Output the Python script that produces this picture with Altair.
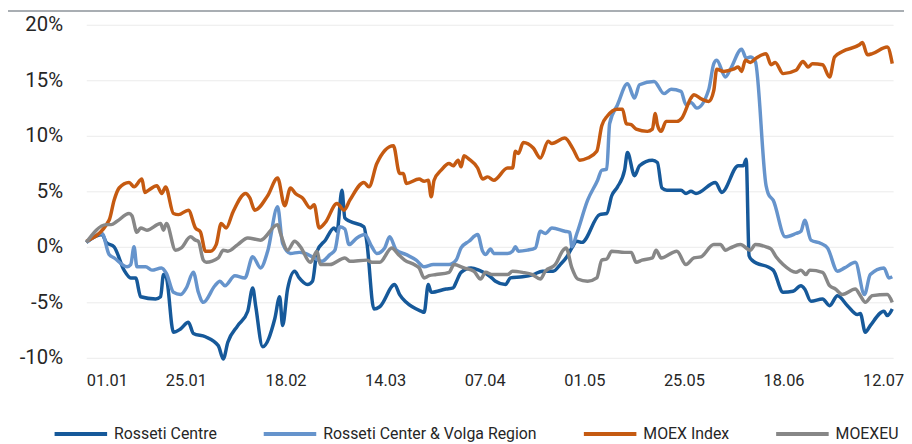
import altair as alt
import pandas as pd

# x values are days since 01.01, y values are % change
SERIES = ["Rosseti Centre", "Rosseti Center & Volga Region", "MOEX Index", "MOEXEU"]
COLORS = ["#16599A", "#6694CC", "#C55A11", "#878787"]
TICK_DAYS = [0, 24, 48, 72, 96, 120, 144, 168, 192]
TICK_LABELS = ["01.01", "25.01", "18.02", "14.03", "07.04", "01.05", "25.05", "18.06", "12.07"]
Y_TICKS = [-10, -5, 0, 5, 10, 15, 20]

RC_DAYS = [0, 3.8, 4.8, 6.7, 9.1, 10.7, 11.9, 13.1, 16.7, 17.9, 18.6, 19.3, 21.0, 22.7, 24.6, 25.8, 28.7, 31.8, 33.0, 34.1,
           36.5, 38.9, 40.1, 40.8, 42.5, 45.4, 46.6, 47.3, 48.5, 50.2, 51.3, 53.3, 54.5, 55.6, 57.6, 59.7, 60.4, 61.6, 62.3, 63.5,
           66.9, 67.6, 69.3, 70.7, 74.3, 75.5, 77.1, 80.7, 81.4, 82.4, 83.1, 86.7, 88.4, 89.1, 90.3, 92.7, 94.6, 97.4, 98.6, 101.0,
           102.2, 105.1, 107.7, 109.9, 112.5, 114.2, 115.8, 117.0, 118.2, 119.4, 123.7, 125.4, 126.6, 128.0, 129.7, 130.4, 132.1,
           133.3, 136.4, 137.6, 138.7, 139.9, 143.3, 144.5, 145.7, 146.9, 151.6, 153.1, 157.1, 158.3, 159.0, 159.7, 160.4, 165.5,
           167.9, 170.3, 172.2, 173.1, 174.6, 177.4, 179.1, 181.0, 183.4, 185.8, 186.5, 187.7, 188.9, 192.2, 193.0, 194.2]
RC_VALS = [0.4, 1.1, 0.4, 0.0, -2.1, -2.8, -2.8, -4.5, -4.7, -4.5, -2.5, -2.8, -7.7, -7.4, -6.8, -7.8, -8.1, -8.9, -10.1, -8.6,
           -7.1, -5.8, -3.7, -5.3, -9.0, -6.5, -4.5, -7.1, -3.8, -2.2, -2.8, -3.4, -3.1, -0.4, 0.6, 1.7, 1.4, 5.1, 2.6, 2.3,
           1.8, 0.4, -5.6, -5.4, -3.4, -4.3, -5.0, -5.8, -5.9, -3.4, -4.1, -3.8, -3.7, -3.2, -2.3, -1.9, -2.1, -2.7, -3.1, -3.4,
           -2.8, -2.7, -2.5, -2.2, -2.2, -1.6, -0.9, -0.1, 0.5, 0.4, 2.9, 3.0, 4.6, 5.4, 6.9, 8.5, 6.4,
           7.3, 7.8, 7.6, 5.3, 5.1, 5.1, 4.8, 5.0, 4.8, 5.8, 4.9, 7.3, 7.3, 7.9, -0.8, -1.2, -2.1,
           -4.1, -4.0, -3.5, -3.8, -4.9, -4.7, -5.3, -4.4, -5.3, -6.1, -6.0, -7.7, -7.1, -5.8, -6.2, -5.6]

VR_DAYS = [0, 3.8, 5.5, 6.7, 9.8, 10.7, 11.5, 12.2, 14.3, 15.8, 18.1, 19.3, 21.0, 22.7, 24.1, 25.8, 27.0, 28.2, 31.0, 32.2,
           33.4, 35.8, 38.2, 40.1, 42.0, 43.7, 46.1, 47.3, 49.2, 51.3, 52.8, 54.9, 56.8, 58.7, 59.9, 61.1, 62.3, 63.3, 65.2, 67.1,
           68.8, 70.0, 71.9, 73.1, 74.7, 77.1, 79.5, 81.4, 83.6, 87.4, 89.1, 90.3, 92.2, 94.3, 95.5, 96.2, 97.4, 98.2, 101.5, 102.7,
           103.4, 104.1, 106.3, 108.2, 109.4, 110.6, 112.2, 115.3, 116.5, 117.0, 118.2, 120.8, 123.2, 124.2, 125.4, 126.1, 128.0,
           130.4, 132.1, 133.3, 136.8, 139.2, 140.9, 143.3, 144.5, 145.7, 147.1, 150.0, 151.2, 151.9, 154.0, 155.2, 157.9, 159.0,
           160.0, 161.2, 163.8, 164.3, 165.5, 168.4, 171.0, 172.2, 173.1, 174.6, 177.0, 178.6, 181.0, 182.7, 185.3, 187.5, 188.9,
           192.2, 193.4, 194.2]
VR_VALS = [0.4, 1.2, -0.7, -1.0, -1.8, -1.6, 0.0, -1.8, -1.8, -2.1, -1.9, -2.4, -4.1, -4.3, -3.7, -2.3, -4.1, -5.0, -3.5, -3.1,
           -3.5, -2.6, -2.8, -0.9, -1.9, -0.4, 3.6, 0.3, -0.6, -0.5, -0.6, -1.0, -1.3, -0.7, -0.3, 1.8, 1.6, 0.2, 0.8, 1.1,
           0.0, -0.6, -0.1, 0.9, -0.3, -0.7, -1.2, -1.8, -1.6, -1.6, -1.2, -0.1, 0.5, 1.1, -0.4, -0.7, -0.2, -0.6, -0.6, -0.4,
           0.0, -0.4, -0.3, -0.1, 1.4, 1.2, 1.7, 1.4, 1.3, 0.0, 1.2, 4.2, 6.0, 6.9, 7.0, 11.1, 12.8,
           14.7, 13.4, 14.6, 14.9, 13.8, 14.2, 14.0, 12.8, 13.0, 12.5, 14.2, 16.5, 16.8, 15.3, 16.0, 17.8, 17.0,
           17.1, 16.7, 5.5, 4.8, 4.2, 0.9, 1.2, 1.4, 2.4, 0.6, 0.3, -0.1, -2.2, -1.9, -1.4, -4.3, -2.5,
           -1.9, -2.8, -2.7]

MX_DAYS = [0, 5.5, 6.7, 7.9, 10.3, 11.5, 13.4, 14.1, 15.0, 17.0, 18.2, 19.1, 21.0, 22.2, 24.6, 26.3, 27.5, 28.7, 29.9, 31.3,
           32.5, 33.7, 35.3, 38.4, 39.4, 40.6, 43.7, 46.1, 47.8, 49.2, 50.4, 52.1, 54.0, 54.9, 56.1, 57.6, 60.4, 62.1, 63.5, 66.9,
           68.1, 70.0, 74.0, 75.5, 76.4, 77.1, 80.2, 81.4, 82.4, 83.1, 83.8, 85.5, 87.4, 88.4, 89.6, 90.3, 91.0, 92.2, 94.3, 95.5,
           96.7, 98.2, 101.5, 102.7, 103.4, 104.1, 105.3, 107.7, 109.4, 111.3, 112.2, 115.3, 117.3, 118.9, 120.8, 123.0, 124.2,
           125.6, 128.0, 129.2, 130.1, 131.3, 132.5, 135.2, 136.4, 137.1, 137.6, 138.5, 139.7, 142.3, 143.5, 145.7, 146.4, 148.3,
           150.0, 151.2, 151.9, 153.6, 155.9, 157.1, 157.9, 158.8, 160.0, 161.4, 163.8, 165.0, 166.0, 167.9, 171.0, 172.7, 173.9,
           175.0, 177.4, 179.1, 180.3, 182.2, 186.3, 187.0, 188.2, 189.4, 193.0, 194.2]
MX_VALS = [0.5, 2.4, 4.2, 5.3, 5.8, 5.4, 6.1, 4.9, 5.1, 5.5, 4.8, 5.4, 3.0, 2.9, 3.3, 1.7, 1.35, -0.4, -0.4, 0.2,
           2.1, 1.7, 3.1, 4.8, 4.4, 3.3, 4.6, 6.2, 3.7, 5.3, 4.8, 4.4, 3.5, 3.8, 1.7, 2.2, 3.9, 3.3, 4.2, 5.8,
           5.4, 7.5, 9.1, 6.6, 6.6, 5.7, 6.1, 5.9, 6.0, 4.5, 6.0, 6.9, 7.5, 7.3, 7.8, 7.2, 8.2, 7.9, 7.1, 6.1,
           6.3, 6.0, 7.1, 7.1, 8.6, 8.4, 9.4, 8.9, 8.0, 9.5, 9.3, 9.8, 8.8, 7.8, 8.0, 8.6, 10.9,
           11.8, 12.4, 12.4, 11.1, 11.0, 10.6, 10.4, 10.6, 12.0, 11.0, 10.4, 11.3, 11.3, 11.6, 13.4, 13.7, 13.3,
           13.1, 14.1, 16.0, 15.8, 16.0, 16.2, 15.8, 16.8, 16.6, 17.0, 17.4, 16.4, 16.6, 15.6, 15.9, 16.7, 16.2,
           16.5, 16.4, 15.3, 17.1, 17.6, 18.2, 18.4, 17.3, 17.4, 18.0, 16.5]

EU_DAYS = [0, 4.8, 6.0, 7.4, 10.3, 11.0, 12.2, 13.1, 14.6, 17.9, 18.6, 19.3, 21.5, 22.9, 25.1, 26.3, 27.0, 28.2, 28.9, 31.8,
           33.0, 34.1, 36.5, 38.9, 42.0, 46.1, 46.8, 48.5, 50.2, 51.6, 54.0, 55.6, 56.4, 58.7, 62.3, 63.5, 67.6, 68.8, 70.7, 73.6,
           75.2, 76.7, 79.0, 80.2, 81.4, 82.6, 84.3, 87.4, 88.6, 91.0, 93.4, 95.0, 96.2, 97.9, 101.5, 102.7, 105.1, 107.5, 109.4,
           110.6, 113.0, 114.9, 115.6, 117.0, 118.4, 120.8, 123.0, 124.2, 125.4, 126.6, 129.7, 131.3, 132.5, 133.9, 136.4, 137.3,
           138.5, 142.3, 144.5, 146.4, 148.1, 151.2, 152.8, 154.0, 155.2, 157.6, 160.0, 161.2, 163.8, 165.0, 166.2, 167.9, 171.0,
           172.2, 173.4, 174.3, 177.4, 179.1, 180.5, 182.2, 185.3, 186.5, 187.7, 189.4, 193.0, 194.2]
EU_VALS = [0.4, 2.0, 2.0, 2.3, 3.0, 2.8, 1.3, 1.7, 1.5, 2.1, 1.5, 2.1, -0.3, -0.1, 0.9, 0.6, 0.5, -1.2, -1.4, -1.0,
           -0.3, -0.4, 0.2, 0.8, 0.6, 2.0, 1.2, -0.3, 0.5, 0.0, -1.4, -0.4, -1.6, -1.6, -1.0, -1.3, -1.2, -1.4, -1.4, -0.1,
           -0.7, -1.2, -1.6, -1.9, -2.8, -2.6, -2.5, -2.3, -1.6, -1.9, -2.2, -2.9, -2.3, -2.5, -2.5, -2.2, -2.3, -2.5, -2.9,
           -2.2, -1.6, -0.3, -0.1, -1.9, -2.9, -3.1, -2.8, -1.2, -1.1, -0.4, -0.5, -0.5, -1.4, -1.2, -1.0, -0.3,
           -1.0, -0.4, -1.6, -1.0, -0.9, 0.2, 0.2, -0.3, -0.1, 0.2, -0.3, 0.2, 0.0, -0.2, -0.9, -1.6, -2.3,
           -2.1, -2.5, -2.1, -2.3, -3.5, -3.8, -4.3, -3.8, -4.4, -5.0, -4.4, -4.3, -5.0]

rows = []
for order, (name, days, vals) in enumerate(zip(SERIES, [RC_DAYS, VR_DAYS, MX_DAYS, EU_DAYS],
                                               [RC_VALS, VR_VALS, MX_VALS, EU_VALS])):
    assert len(days) == len(vals), (name, len(days), len(vals))
    for d, v in zip(days, vals):
        rows.append({"series": name, "day": d, "value": v, "order": order})
df = pd.DataFrame(rows)

FONT = "Roboto"
label_js = "[" + ",".join("'%s'" % t for t in TICK_LABELS) + "]"

lines = alt.Chart(df).mark_line(strokeWidth=3.5, interpolate="monotone").encode(
    x=alt.X("day:Q", scale=alt.Scale(domain=[0, 194.4], nice=False, zero=False),
            axis=alt.Axis(values=TICK_DAYS, labelExpr=label_js + "[round(datum.value/24)]",
                          grid=False, domain=False, ticks=False, labelPadding=15,
                          labelFontSize=16.5, labelFont=FONT, labelColor="#262626", title=None)),
    y=alt.Y("value:Q", scale=alt.Scale(domain=[-10, 20], nice=False),
            axis=alt.Axis(values=Y_TICKS, labelExpr="datum.value + '%'", grid=True, gridColor="#EBEBEB",
                          gridWidth=1, domain=False, ticks=False, labelPadding=24,
                          labelFontSize=20.5, labelFont=FONT, labelColor="#262626", title=None)),
    color=alt.Color("series:N", scale=alt.Scale(domain=SERIES, range=COLORS),
                    legend=alt.Legend(orient="none", legendX=-34, legendY=384, direction="horizontal",
                                      title=None, symbolType="stroke", symbolSize=2809,
                                      symbolStrokeWidth=4, labelFont=FONT, labelFontSize=16,
                                      labelColor="#262626", columnPadding=39, labelOffset=5,
                                      labelLimit=400, columns=4, padding=0)),
    detail="order:O",
)

top_rule = alt.Chart(pd.DataFrame({"k": [0]})).mark_rule(color="#A9AEB3", strokeWidth=2).encode(
    x=alt.value(-79), x2=alt.value(825), y=alt.value(-14)
)

chart = alt.layer(lines, top_rule).properties(
    width=814, height=336,
    padding={"left": 79, "top": 15, "right": 11, "bottom": 85},
    autosize=alt.AutoSizeParams(type="none"),
).configure_view(stroke=None)

chart.save("out.html", embed_options={"renderer": "svg", "actions": False})
